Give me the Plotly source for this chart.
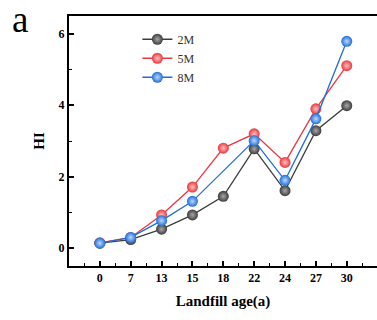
import plotly.graph_objects as go

ages = ["0", "7", "13", "15", "18", "22", "24", "27", "30"]
hi_2m = [0.14, 0.24, 0.53, 0.93, 1.45, 2.78, 1.61, 3.29, 3.99]
hi_5m = [0.15, 0.30, 0.93, 1.71, 2.80, 3.20, 2.40, 3.90, 5.11]
hi_8m = [0.14, 0.30, 0.77, 1.31, None, 3.01, 1.90, 3.62, 5.79]

series = [
    ("2M", hi_2m, "#3c3c3c", "#a8a8a8"),
    ("5M", hi_5m, "#e8383d", "#ffc0c0"),
    ("8M", hi_8m, "#1f6fd8", "#bcd8ff"),
]

pos = list(range(len(ages)))
serif = "Liberation Serif, Times New Roman, serif"

fig = go.Figure()
for name, vals, col, hl in series:
    fig.add_trace(go.Scatter(
        x=pos, y=vals, name=name, mode="lines+markers", connectgaps=True,
        line=dict(color=col, width=1.3),
        marker=dict(size=11, color=col, gradient=dict(type="radial", color=hl),
                    line=dict(width=0)),
    ))

fig.update_layout(
    width=377, height=320,
    margin=dict(l=69, r=0, t=16, b=54),
    paper_bgcolor="white", plot_bgcolor="white",
    showlegend=True,
    legend=dict(x=0.222, y=0.965, xanchor="left", yanchor="top",
                bgcolor="rgba(0,0,0,0)", font=dict(family=serif, size=12, color="#333"),
                tracegroupgap=0, itemwidth=30),
    font=dict(family=serif, color="black"),
)

fig.update_xaxes(
    range=[-1, 8.98], tickmode="array", tickvals=pos, ticktext=ages,
    showgrid=False, zeroline=False,
    showline=True, linecolor="black", linewidth=2, mirror=True,
    ticks="inside", ticklen=5, tickwidth=1.5, tickcolor="black",
    tickfont=dict(family=serif, size=12, color="black", weight="bold"),
    minor=dict(tickmode="linear", tick0=-0.5, dtick=1, ticks="inside", ticklen=3, tickwidth=1, tickcolor="black"),
    title=dict(text="<b>Landfill age(a)</b>", font=dict(family=serif, size=15, color="black"), standoff=11),
)
fig.update_yaxes(
    range=[-0.5, 6.5], tickmode="array", tickvals=[0, 2, 4, 6],
    showgrid=False, zeroline=False,
    showline=True, linecolor="black", linewidth=2, mirror=False,
    ticks="inside", ticklen=5, tickwidth=1.5, tickcolor="black",
    tickfont=dict(family=serif, size=12, color="black", weight="bold"),
    minor=dict(tickmode="linear", tick0=1, dtick=2, ticks="inside", ticklen=3, tickwidth=1, tickcolor="black"),
    title=dict(text="<b>HI</b>", font=dict(family=serif, size=15, color="black"), standoff=10),
)

fig.add_annotation(text="a", xref="paper", yref="paper", x=-0.16, y=0.985,
                   xanchor="center", yanchor="middle", showarrow=False,
                   font=dict(family=serif, size=37, color="black"))

fig.write_html("out.html")
